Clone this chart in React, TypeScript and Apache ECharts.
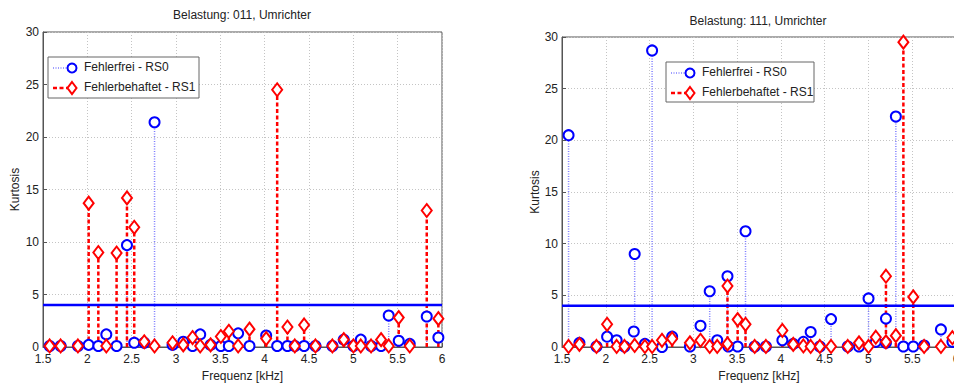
import React, { useEffect, useRef } from "react";
import * as echarts from "echarts";

const FREQ = [1.575, 1.699, 1.894, 2.015, 2.124, 2.214, 2.33, 2.447, 2.529, 2.642, 2.758, 2.961, 3.082, 3.187, 3.273, 3.39, 3.506, 3.596, 3.701, 3.829, 4.017, 4.141, 4.257, 4.34, 4.445, 4.573, 4.764, 4.892, 5.001, 5.084, 5.2, 5.313, 5.399, 5.512, 5.636, 5.828, 5.959];

const LEFT_RS0 = [0.1, 0.1, 0.1, 0.2, 0.1, 1.2, 0.1, 9.7, 0.4, 0.4, 21.4, 0.2, 0.5, 0.1, 1.2, 0.2, 0.1, 0.1, 1.3, 0.1, 1.1, 0.1, 0.1, 0.1, 0.1, 0.1, 0.1, 0.7, 0.1, 0.7, 0.1, 0.1, 3.0, 0.6, 0.3, 2.9, 0.9];
const LEFT_RS1 = [0.1, 0.1, 0.1, 13.7, 9.0, 0.1, 8.95, 14.2, 11.4, 0.5, 0.1, 0.4, 0.2, 0.9, 0.1, 0.2, 1.0, 1.5, 0.1, 1.7, 0.8, 24.5, 1.9, 0.1, 2.1, 0.1, 0.1, 0.7, 0.1, 0.1, 0.1, 0.7, 0.1, 2.8, 0.1, 13.0, 2.7];

const RIGHT_RS0 = [20.5, 0.4, 0.05, 1.0, 0.65, 0.05, 9.0, 0.3, 28.7, 0.0, 1.0, 0.05, 2.05, 5.4, 0.65, 6.85, 0.05, 11.2, 0.05, 0.05, 0.65, 0.3, 0.5, 1.45, 0.05, 2.7, 0.05, 0.05, 4.7, 0.5, 2.75, 22.3, 0.05, 0.05, 0.15, 1.7, 0.5];
const RIGHT_RS1 = [0.05, 0.25, 0.05, 2.2, 0.05, 0.05, 0.15, 0.05, 0.05, 0.65, 0.8, 0.4, 0.65, 0.05, 0.05, 5.9, 2.65, 2.2, 0.05, 0.05, 1.6, 0.25, 0.1, 0.05, 0.05, 0.05, 0.05, 0.4, 0.05, 0.95, 6.85, 1.1, 29.5, 4.85, 0.05, 0.05, 0.9];

// additional measurements at (nearly) coinciding frequencies
const RIGHT_RS0_EXTRA_F = [2.32, 3.40, 5.2];
const RIGHT_RS0_EXTRA_V = [1.5, 0.05, 0.4];
const RIGHT_RS1_EXTRA_F = [3.39, 5.2];
const RIGHT_RS1_EXTRA_V = [0.3, 0.5];

const THRESHOLD = 4;
const X_MIN = 1.5, X_MAX = 6, X_STEP = 0.5;
const Y_MIN = 0, Y_MAX = 30, Y_STEP = 5;

const TITLES = ["Belastung: 011, Umrichter", "Belastung: 111, Umrichter"];
const X_NAME = "Frequenz [kHz]";
const Y_NAME = "Kurtosis";
const LEGEND = ["Fehlerfrei - RS0", "Fehlerbehaftet - RS1"];

const FONT = "'Liberation Sans', Arial, Helvetica, sans-serif";
const BLUE = "#0000ff";
const RED = "#ff0000";

function pairs(f: number[], v: number[]) {
  return f.map((x, i) => [x, v[i]]);
}

function stemSeries(data: number[][], idx: number, color: string, width: number, dash: number[]) {
  return {
    type: "custom",
    xAxisIndex: idx,
    yAxisIndex: idx,
    encode: { x: 0, y: 1 },
    data,
    silent: true,
    renderItem: (_p: any, api: any) => {
      const x = api.value(0);
      const y = api.value(1);
      const p0 = api.coord([x, 0]);
      const p1 = api.coord([x, y]);
      return {
        type: "line",
        shape: { x1: p0[0], y1: p0[1], x2: p1[0], y2: p1[1] },
        style: { stroke: color, lineWidth: width, lineDash: dash },
      };
    },
  };
}

function markerSeries(data: number[][], idx: number, color: string, symbol: string, size: any) {
  return {
    type: "scatter",
    xAxisIndex: idx,
    yAxisIndex: idx,
    data,
    symbol,
    symbolSize: size,
    silent: true,
    itemStyle: { color: "#ffffff", opacity: 1, borderColor: color, borderWidth: 2 },
    z: 5,
  };
}

function legendGraphic(x: number, y: number, w: number, h: number) {
  const lx1 = x + 5, lx2 = x + 24, tx = x + 36;
  const r1 = y + 11, r2 = y + 31;
  const font = `12px ${FONT}`;
  return [
    { type: "rect", shape: { x, y, width: w, height: h }, style: { fill: "#fff", stroke: "#666", lineWidth: 1 }, z: 100 },
    { type: "line", shape: { x1: lx1, y1: r1, x2: lx2, y2: r1 }, style: { stroke: "#7f7fff", lineWidth: 1.5, lineDash: [1, 1.5] }, z: 101 },
    { type: "circle", shape: { cx: lx2, cy: r1, r: 4.5 }, style: { fill: "#fff", stroke: BLUE, lineWidth: 2 }, z: 102 },
    { type: "text", x: tx, y: r1 - 7, style: { text: LEGEND[0], font, fill: "#222" }, z: 102 },
    { type: "line", shape: { x1: lx1, y1: r2, x2: lx2, y2: r2 }, style: { stroke: RED, lineWidth: 2.5, lineDash: [4, 2.5] }, z: 101 },
    { type: "polygon", shape: { points: [[lx2, r2 - 6], [lx2 + 4.5, r2], [lx2, r2 + 6], [lx2 - 4.5, r2]] }, style: { fill: "#fff", stroke: RED, lineWidth: 2 }, z: 102 },
    { type: "text", x: tx, y: r2 - 7, style: { text: LEGEND[1], font, fill: "#222" }, z: 102 },
  ];
}

function axisPair(idx: number, nameGapY: number) {
  const common = {
    gridIndex: idx,
    type: "value",
    axisLine: { show: true, lineStyle: { color: "#555", width: 1 } },
    axisTick: { show: true, inside: true, length: 4, lineStyle: { color: "#555" } },
    splitLine: { show: true, lineStyle: { color: "#c4c4c4", type: [1, 2], width: 1 } },
    nameTextStyle: { fontFamily: FONT, fontSize: 12, color: "#222" },
    axisLabel: { fontFamily: FONT, fontSize: 12, color: "#222" },
  };
  return {
    x: {
      ...common,
      min: X_MIN, max: X_MAX, interval: X_STEP,
      name: X_NAME, nameLocation: "middle", nameGap: 22,
      axisLabel: { ...common.axisLabel, margin: 6 },
    },
    y: {
      ...common,
      min: Y_MIN, max: Y_MAX, interval: Y_STEP,
      name: Y_NAME, nameLocation: "middle", nameGap: nameGapY,
      axisLabel: { ...common.axisLabel, margin: 4 },
    },
  };
}

export default function App() {
  const ref = useRef<HTMLDivElement>(null);
  useEffect(() => {
    if (!ref.current) return;
    const chart = echarts.init(ref.current, null, { renderer: "svg" });
    const a0 = axisPair(0, 22);
    const a1 = axisPair(1, 21);
    const leftR0 = pairs(FREQ, LEFT_RS0);
    const leftR1 = pairs(FREQ, LEFT_RS1);
    const rightR0 = pairs(FREQ, RIGHT_RS0).concat(pairs(RIGHT_RS0_EXTRA_F, RIGHT_RS0_EXTRA_V));
    const rightR1 = pairs(FREQ, RIGHT_RS1).concat(pairs(RIGHT_RS1_EXTRA_F, RIGHT_RS1_EXTRA_V));
    const thr = [[X_MIN, THRESHOLD], [X_MAX, THRESHOLD]];
    const circleSize = 10;
    const diamondSize = [10, 13];
    const titleFont = `12px ${FONT}`;
    chart.setOption({
      animation: false,
      backgroundColor: "#ffffff",
      grid: [
        { left: 43, top: 32, width: 399, height: 315, show: true, borderColor: "#555", borderWidth: 1, backgroundColor: "transparent", outerBoundsMode: "none", containLabel: false },
        { left: 562, top: 37, width: 394, height: 310, show: true, borderColor: "#555", borderWidth: 1, backgroundColor: "transparent", outerBoundsMode: "none", containLabel: false },
      ],
      xAxis: [a0.x, a1.x],
      yAxis: [a0.y, a1.y],
      series: [
        stemSeries(leftR0, 0, "#7f7fff", 1.5, [1, 1.5]),
        markerSeries(leftR0, 0, BLUE, "circle", circleSize),
        stemSeries(leftR1, 0, RED, 2.5, [4, 2.5]),
        markerSeries(leftR1, 0, RED, "diamond", diamondSize),
        { type: "line", xAxisIndex: 0, yAxisIndex: 0, data: thr, symbol: "none", silent: true, lineStyle: { color: BLUE, width: 2.5 }, z: 4 },
        stemSeries(rightR0, 1, "#7f7fff", 1.5, [1, 1.5]),
        markerSeries(rightR0, 1, BLUE, "circle", circleSize),
        stemSeries(rightR1, 1, RED, 2.5, [4, 2.5]),
        markerSeries(rightR1, 1, RED, "diamond", diamondSize),
        { type: "line", xAxisIndex: 1, yAxisIndex: 1, data: thr, symbol: "none", silent: true, lineStyle: { color: BLUE, width: 2.5 }, z: 4 },
      ],
      graphic: [
        { type: "text", x: 242, y: 9, style: { text: TITLES[0], font: titleFont, fill: "#222", textAlign: "center" } },
        { type: "text", x: 758, y: 15, style: { text: TITLES[1], font: titleFont, fill: "#222", textAlign: "center" } },
        ...legendGraphic(48, 57, 151, 41),
        ...legendGraphic(666, 62, 148, 40),
      ],
    });
    return () => chart.dispose();
  }, []);
  return (
    <div
      ref={ref}
      style={{ position: "fixed", left: 0, top: 0, width: 954, height: 383, background: "#fff" }}
    />
  );
}
